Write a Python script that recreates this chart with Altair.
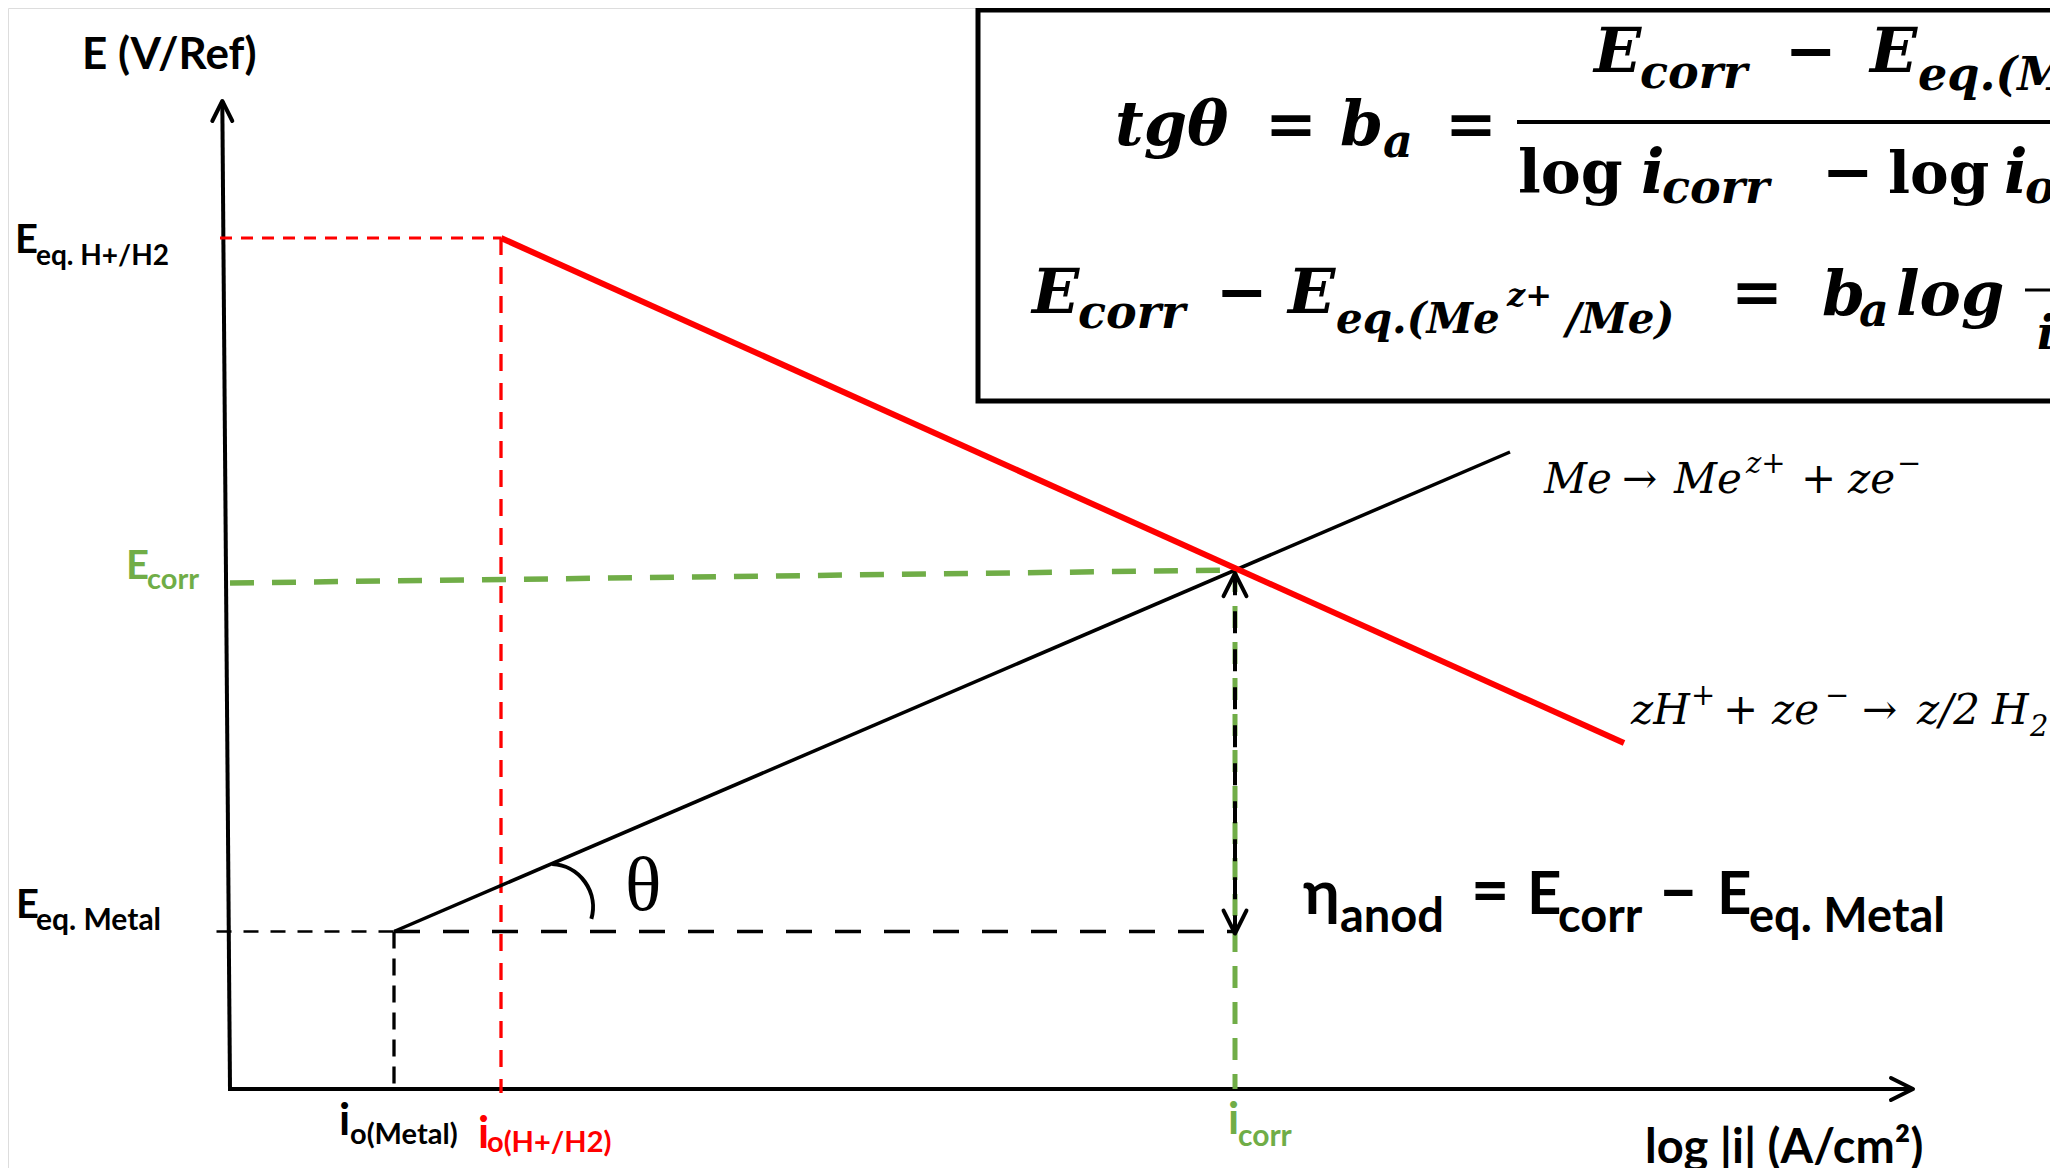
import altair as alt
import pandas as pd

# ---------------- diagram values (x: log|i| units, y: E units; origin = axes corner) -------------
io_metal = 1.66          # i_o(Metal)
io_h = 2.73              # i_o(H+/H2)
i_corr = 10.07           # i_corr
E_eq_metal = 1.575       # E_eq. Metal
E_eq_h = 8.51            # E_eq. H+/H2
E_corr = 5.19            # E_corr (crossing of the two Tafel lines)
E_corr_at_axis = 5.06    # the E_corr guide reaches the E axis slightly lower

anodic_x = [io_metal, 12.82]     # Me -> Me^z+ + ze-
anodic_y = [E_eq_metal, 6.37]
cathodic_x = [io_h, 13.96]       # zH+ + ze- -> z/2 H2
cathodic_y = [E_eq_h, 3.46]

x_axis_end = 16.85
y_axis_top = 9.88
eta_top = 5.157
eta_bottom = 1.555

# ---------------- canvas / scales ----------------
W, H = 2042, 1160
X0, Y1 = -2.20, 10.81
xs = alt.Scale(domain=[X0, X0 + W / 100], nice=False, zero=False)
ys = alt.Scale(domain=[Y1 - H / 100, Y1], nice=False, zero=False)


def X(f):
    return alt.X(f, type="quantitative", scale=xs, axis=None)


def Y(f):
    return alt.Y(f, type="quantitative", scale=ys, axis=None)


def seg_layer(rows, color, width, dash=None):
    df = pd.DataFrame(rows, columns=["x", "y", "x2", "y2"])
    kw = dict(color=color, strokeWidth=width, strokeCap="butt")
    if dash:
        kw["strokeDash"] = dash
    return alt.Chart(df).mark_rule(**kw).encode(
        x=X("x"), y=Y("y"), x2="x2:Q", y2="y2:Q")


BLACK, RED, GREEN = "#000000", "#FF0000", "#70AD47"

# equation box
box = alt.Chart(pd.DataFrame({"x": [7.50], "x2": [20.0], "y": [6.88], "y2": [10.79]})).mark_rect(
    fill="white", stroke=BLACK, strokeWidth=5).encode(
    x=X("x"), x2="x2:Q", y=Y("y"), y2="y2:Q")

layers = [box]

# axes
layers.append(seg_layer([(0.02, 0, -0.057, y_axis_top), (0.0, 0.0, x_axis_end, 0.0)], BLACK, 4))
# guides
layers.append(seg_layer([(i_corr, E_corr, i_corr, 0.0)], GREEN, 5, [22, 14]))
layers.append(seg_layer([(i_corr, eta_top, i_corr, eta_bottom)], BLACK, 4, [22, 16]))
layers.append(seg_layer([(-0.115, E_eq_metal, io_metal, E_eq_metal)], BLACK, 2.5, [15, 12]))
layers.append(seg_layer([(io_metal, E_eq_metal, i_corr, E_eq_metal)], BLACK, 3.3, [26, 23]))
layers.append(seg_layer([(io_metal, E_eq_metal, io_metal, 0.0)], BLACK, 3.3, [17, 10]))
layers.append(seg_layer([(-0.08, E_eq_h, io_h, E_eq_h)], RED, 3, [12, 9]))
layers.append(seg_layer([(io_h, E_eq_h, io_h, -0.04)], RED, 3.3, [17, 12]))
layers.append(seg_layer([(0.02, E_corr_at_axis, i_corr, E_corr)], GREEN, 5.5, [24, 18]))
# Tafel lines
layers.append(seg_layer([(anodic_x[0], anodic_y[0], anodic_x[1], anodic_y[1])], BLACK, 3.5))
layers.append(seg_layer([(cathodic_x[0], cathodic_y[0], cathodic_x[1], cathodic_y[1])], RED, 6))
# fraction bars in the box
layers.append(seg_layer([(12.89, 9.67, 19.0, 9.67)], BLACK, 4))
layers.append(seg_layer([(17.97, 7.99, 19.0, 7.99)], BLACK, 3))

# theta arc
layers.append(alt.Chart(pd.DataFrame({"x": [3.22], "y": [1.82]})).mark_arc(
    radius=43, radius2=43, theta=0.05, theta2=1.85, fillOpacity=0,
    stroke=BLACK, strokeWidth=4).encode(x=X("x"), y=Y("y")))

# arrow heads
heads = pd.DataFrame({
    "x": [-0.057, x_axis_end, i_corr, i_corr],
    "y": [y_axis_top, 0.0, eta_top, eta_bottom],
    "angle": [0, 90, 0, 180],
    "size": [1600, 1936, 2100, 2100],
})
layers.append(alt.Chart(heads).mark_point(
    shape="M-0.5,1L0,0L0.5,1", filled=False, opacity=1, color=BLACK,
    strokeWidth=4, strokeCap="round", strokeJoin="round").encode(
    x=X("x"), y=Y("y"), angle=alt.Angle("angle:Q", scale=None),
    size=alt.Size("size:Q", scale=None)))

# ---------------- texts ----------------
SANS = "Lato, 'Open Sans', sans-serif"
sans_txt = [
    ("E (V/Ref)", -1.46, 10.20, 44, BLACK),
    ("E", -2.13, 8.36, 40, BLACK), ("eq. H+/H2", -1.92, 8.24, 28, BLACK),
    ("E", -1.02, 5.10, 40, GREEN), ("corr", -0.81, 5.00, 29, GREEN),
    ("E", -2.12, 1.71, 40, BLACK), ("eq. Metal", -1.92, 1.59, 30, BLACK),
    ("i", 1.11, -0.46, 44, BLACK), ("o(Metal)", 1.22, -0.55, 29, BLACK),
    ("i", 2.50, -0.59, 44, RED), ("o(H+/H2)", 2.59, -0.63, 29, RED),
    ("i", 10.00, -0.45, 44, GREEN), ("corr", 10.10, -0.57, 30, GREEN),
    ("log |i| (A/cm²)", 14.17, -0.74, 47, BLACK),
    ("η", 10.75, 1.75, 62, BLACK), ("anod", 11.12, 1.57, 47, BLACK),
    ("=", 12.43, 1.75, 66, BLACK), ("E", 12.99, 1.75, 60, BLACK),
    ("corr", 13.30, 1.57, 47, BLACK), ("–", 14.30, 1.75, 70, BLACK),
    ("E", 14.89, 1.75, 60, BLACK), ("eq. Metal", 15.21, 1.57, 47, BLACK),
]
serif_i_txt = [
    ("Me", 13.16, 5.96, 42, BLACK), ("→", 13.94, 5.96, 42, BLACK),
    ("Me", 14.46, 5.96, 42, BLACK), ("z+", 15.18, 6.16, 29, BLACK),
    ("+", 15.73, 5.96, 42, BLACK), ("ze", 16.20, 5.96, 42, BLACK),
    ("−", 16.69, 6.16, 29, BLACK),
    ("zH", 14.03, 3.65, 42, BLACK), ("+", 14.63, 3.84, 29, BLACK),
    ("+", 14.95, 3.65, 42, BLACK), ("ze", 15.44, 3.65, 42, BLACK),
    ("−", 15.97, 3.84, 29, BLACK),
    ("→", 16.34, 3.65, 42, BLACK), ("z/2", 16.89, 3.65, 42, BLACK),
    ("H", 17.64, 3.65, 42, BLACK), ("2", 18.02, 3.53, 29, BLACK),
]
serif_bi_txt = [
    ("tgθ", 8.87, 9.44, 62, BLACK), ("=", 10.37, 9.44, 62, BLACK),
    ("b", 11.12, 9.44, 62, BLACK), ("a", 11.55, 9.32, 46, BLACK),
    ("=", 12.17, 9.44, 62, BLACK),
    ("E", 13.66, 10.17, 62, BLACK), ("corr", 14.12, 10.01, 46, BLACK),
    ("−", 15.57, 10.17, 62, BLACK), ("E", 16.42, 10.17, 62, BLACK),
    ("eq.(Me", 16.90, 9.99, 46, BLACK),
    ("i", 14.13, 8.96, 62, BLACK), ("corr", 14.34, 8.86, 46, BLACK),
    ("−", 15.94, 8.96, 62, BLACK), ("i", 17.76, 8.96, 62, BLACK),
    ("o", 17.97, 8.86, 46, BLACK),
    ("E", 8.04, 7.76, 62, BLACK), ("corr", 8.50, 7.61, 46, BLACK),
    ("−", 9.88, 7.76, 62, BLACK), ("E", 10.60, 7.76, 62, BLACK),
    ("eq.(Me", 11.08, 7.56, 42, BLACK), ("z+", 12.79, 7.83, 32, BLACK),
    ("/Me)", 13.38, 7.56, 42, BLACK), ("=", 15.03, 7.76, 62, BLACK),
    ("b", 15.94, 7.74, 62, BLACK), ("a", 16.31, 7.63, 46, BLACK),
    ("log", 16.68, 7.74, 62, BLACK), ("i", 18.09, 7.40, 46, BLACK),
]
serif_b_txt = [
    ("log", 12.90, 8.96, 60, BLACK), ("log", 16.60, 8.96, 58, BLACK),
]
theta_txt = [("θ", 3.97, 1.79, 76, BLACK)]


def text_layer(rows, font, weight="normal", style="normal"):
    df = pd.DataFrame(rows, columns=["t", "x", "y", "size", "color"])
    return alt.Chart(df).mark_text(
        align="left", baseline="alphabetic", font=font,
        fontWeight=weight, fontStyle=style).encode(
        x=X("x"), y=Y("y"), text="t:N",
        size=alt.Size("size:Q", scale=None),
        color=alt.Color("color:N", scale=None))


layers.append(text_layer(sans_txt, SANS, weight="bold"))
layers.append(text_layer(serif_i_txt, "DejaVu Serif", style="italic"))
layers.append(text_layer(serif_bi_txt, "DejaVu Serif", weight="bold", style="italic"))
layers.append(text_layer(serif_b_txt, "DejaVu Serif", weight="bold"))
layers.append(text_layer(theta_txt, "Liberation Serif"))

chart = alt.layer(*layers).properties(
    width=W, height=H, padding=0,
    autosize=alt.AutoSizeParams(type="none"),
).configure_view(strokeWidth=0).configure(background="white")

chart.save("out.html", embed_options={"renderer": "svg", "actions": False})
